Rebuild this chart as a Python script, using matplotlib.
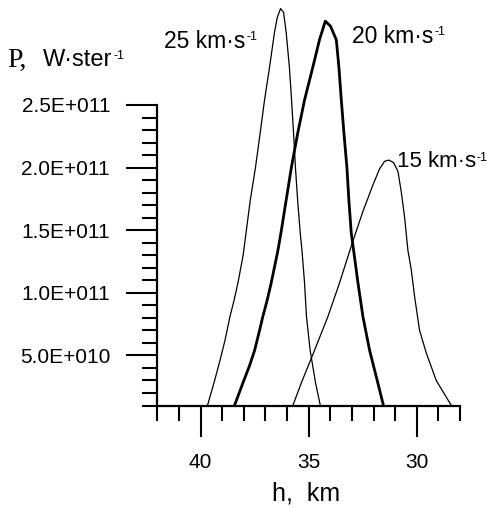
import numpy as np
import matplotlib.pyplot as plt
from matplotlib.ticker import MultipleLocator, FixedLocator, FuncFormatter

plt.rcParams['font.family'] = ['Liberation Sans', 'DejaVu Sans']

# h in km, P in units of 1e11 W/ster
h_25 = [39.68, 39.38, 39.10, 38.87, 38.64, 38.45, 38.27, 38.03, 37.70, 37.46,
        37.24, 37.04, 36.81, 36.58, 36.45, 36.30, 36.16, 36.04, 35.89, 35.79,
        35.70, 35.61, 35.51, 35.39, 35.30, 35.19, 35.10, 34.93, 34.68, 34.46]
p_25 = [0.10, 0.28, 0.46, 0.62, 0.81, 0.94, 1.08, 1.30, 1.74, 2.00,
        2.28, 2.54, 2.80, 3.08, 3.20, 3.27, 3.24, 3.08, 2.80, 2.54,
        2.28, 2.00, 1.74, 1.48, 1.32, 1.08, 0.81, 0.54, 0.28, 0.10]

h_20 = [38.43, 38.04, 37.73, 37.50, 37.27, 37.12, 36.92, 36.73, 36.42, 36.28,
        36.04, 35.80, 35.50, 35.19, 34.81, 34.50, 34.23, 33.99, 33.72, 33.60,
        33.49, 33.37, 33.23, 33.14, 33.03, 32.72, 32.49, 32.18, 31.80, 31.54]
p_20 = [0.10, 0.28, 0.42, 0.54, 0.70, 0.81, 0.94, 1.08, 1.34, 1.48,
        1.74, 2.00, 2.28, 2.54, 2.80, 3.02, 3.17, 3.13, 3.02, 2.80,
        2.54, 2.28, 2.00, 1.74, 1.48, 1.08, 0.81, 0.54, 0.28, 0.10]

h_15 = [35.73, 35.34, 34.73, 34.11, 33.57, 32.96, 32.49, 32.03, 31.72, 31.49,
        31.29, 31.07, 30.87, 30.72, 30.56, 30.41, 30.25, 30.10, 29.87, 29.56,
        29.10, 28.40]
p_15 = [0.10, 0.28, 0.54, 0.81, 1.08, 1.41, 1.65, 1.86, 1.99, 2.05,
        2.06, 2.04, 1.97, 1.81, 1.60, 1.34, 1.18, 0.97, 0.70, 0.52,
        0.30, 0.10]

y_major = [0.5, 1.0, 1.5, 2.0, 2.5]
x_major = [40, 35, 30]

W, H = 487, 508
fig = plt.figure(figsize=(W / 100, H / 100), dpi=100)
ax = fig.add_axes([157.3 / W, 1 - 405.5 / H, (460 - 157.3) / W, (405.5 - 105) / H])

scale = 1e11
ax.plot(h_25, np.array(p_25) * scale, color='black', lw=0.9, clip_on=False)
ax.plot(h_20, np.array(p_20) * scale, color='black', lw=2.0, clip_on=False)
ax.plot(h_15, np.array(p_15) * scale, color='black', lw=0.9, clip_on=False)

ax.set_xlim(42, 28)
ax.set_ylim(0.1e11, 2.5e11)

ax.xaxis.set_major_locator(FixedLocator(x_major))
ax.xaxis.set_minor_locator(MultipleLocator(1))
ax.yaxis.set_major_locator(FixedLocator([v * scale for v in y_major]))
ax.yaxis.set_minor_locator(MultipleLocator(0.1e11))


def sci(v, pos):
    e = int(np.floor(np.log10(v)))
    return '%.1fE+%03d' % (v / 10 ** e, e)


ax.yaxis.set_major_formatter(FuncFormatter(sci))

for s in ['top', 'right']:
    ax.spines[s].set_visible(False)
for s in ['left', 'bottom']:
    ax.spines[s].set_linewidth(1.6)

ax.tick_params(which='major', direction='out', length=22, width=1.5, labelsize=15, pad=12)
ax.tick_params(which='minor', direction='out', length=11, width=1.5)


def label(x, y, txt, size):
    t = fig.text(x / W, 1 - y / H, txt, fontsize=size, va='baseline')
    fig.canvas.draw()
    ax.annotate('-1', xy=(1, 1), xycoords=t, xytext=(0.5, -1), textcoords='offset points',
                fontsize=9, va='top', ha='left')
    return t


fig.text(7 / W, 1 - 67 / H, 'P,', family='Liberation Serif', fontsize=20, va='baseline')
label(43, 66, 'W·ster', 17)
label(164, 48, '25 km·s', 16.5)
label(352, 43, '20 km·s', 16.5)
label(397, 167, '15 km·s', 16)
fig.text(272 / W, 1 - 500 / H, 'h,  km', fontsize=18, va='baseline')

fig.savefig('out.png', dpi=100)
